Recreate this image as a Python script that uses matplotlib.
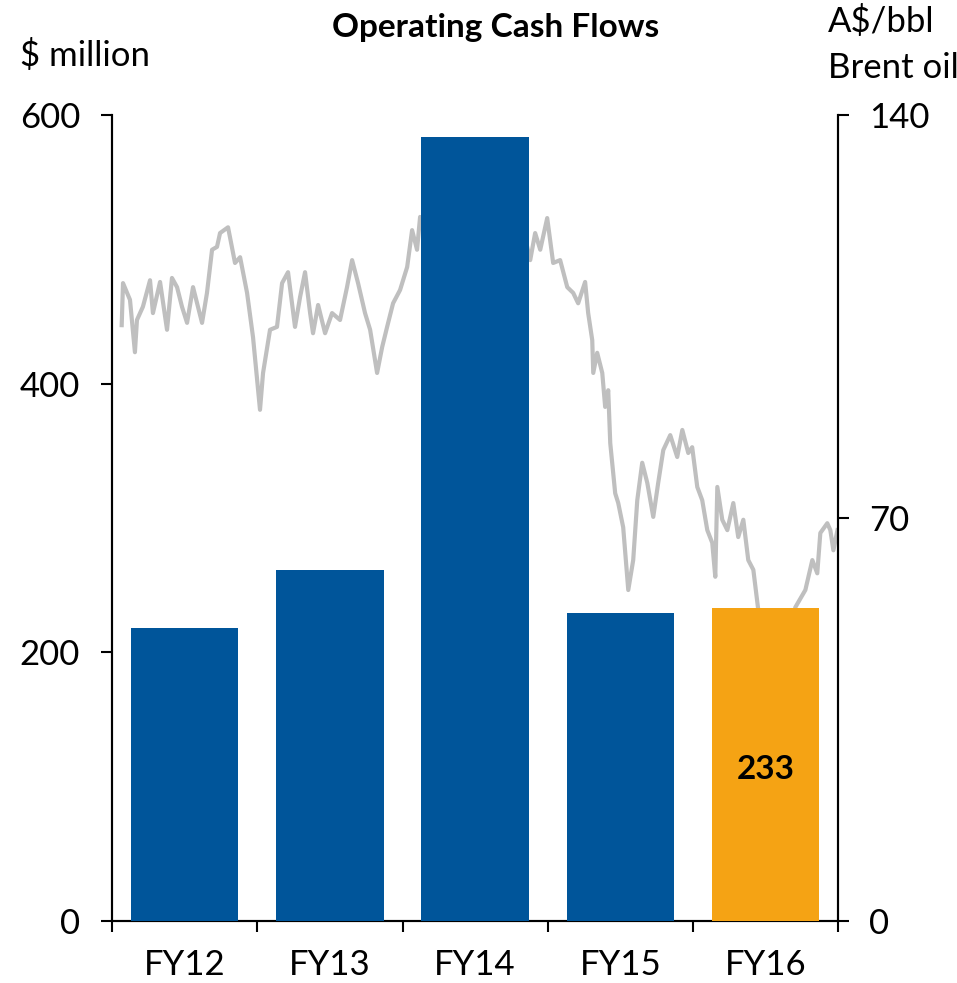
import matplotlib
matplotlib.use("Agg")
import matplotlib.pyplot as plt
import numpy as np

plt.rcParams['font.family'] = ['Lato', 'DejaVu Sans']

# data
years = ["FY12", "FY13", "FY14", "FY15", "FY16"]
cash_flow = [218, 261, 584, 229, 233]
bar_colors = ["#00559A", "#00559A", "#00559A", "#00559A", "#F5A314"]

# Brent oil A$/bbl, time in years from 1 July 2011
oil_t = [0.067, 0.076, 0.124, 0.158, 0.172, 0.213, 0.262, 0.282, 0.331, 0.379,
         0.413, 0.448, 0.482, 0.517, 0.558, 0.620, 0.654, 0.689, 0.723, 0.744,
         0.799, 0.847, 0.882, 0.930, 0.971, 1.019, 1.040, 1.088, 1.136, 1.171,
         1.212, 1.260, 1.295, 1.329, 1.364, 1.384, 1.419, 1.467, 1.515, 1.570,
         1.618, 1.653, 1.694, 1.742, 1.777, 1.825, 1.860, 1.894, 1.935, 1.983,
         2.032, 2.066, 2.100, 2.121, 2.30, 2.50, 2.70, 2.85, 2.879, 2.913,
         2.948, 2.996, 3.037, 3.085, 3.134, 3.175, 3.209, 3.257, 3.278, 3.306,
         3.313, 3.340, 3.375, 3.395, 3.416, 3.430, 3.464, 3.485, 3.519, 3.554,
         3.588, 3.616, 3.650, 3.685, 3.726, 3.760, 3.795, 3.843, 3.891, 3.926,
         3.967, 3.994, 4.029, 4.063, 4.098, 4.132, 4.153, 4.167, 4.201, 4.236,
         4.277, 4.311, 4.346, 4.380, 4.415, 4.449, 4.52, 4.58, 4.64, 4.704,
         4.773, 4.821, 4.855, 4.876, 4.924, 4.945, 4.966, 4.994]
oil_price = [103.5, 110.8, 107.9, 98.8, 104.4, 106.7, 111.3, 105.6, 111.0, 102.7,
             111.7, 110.1, 106.7, 103.9, 110.1, 103.9, 109.1, 116.6, 117.1, 119.5,
             120.5, 114.3, 115.3, 109.1, 101.4, 88.8, 95.2, 102.7, 103.2, 110.8,
             112.7, 103.2, 108.4, 112.7, 105.6, 102.1, 107.0, 102.1, 105.6, 104.4,
             110.1, 114.8, 110.8, 105.6, 102.7, 95.2, 99.7, 103.2, 107.3, 109.6,
             113.6, 120.0, 116.6, 122.3, 120.0, 116.0, 120.0, 118.0, 114.8, 119.5,
             116.6, 122.1, 114.3, 114.8, 110.1, 109.1, 107.3, 111.0, 105.6, 100.9,
             95.2, 98.7, 95.2, 89.3, 92.2, 83.0, 74.3, 72.6, 68.4, 57.5,
             62.7, 73.1, 79.6, 76.1, 70.2, 76.1, 81.8, 84.4, 80.6, 85.3,
             81.3, 82.3, 75.4, 73.1, 67.9, 65.7, 59.8, 75.4, 69.7, 67.9,
             72.6, 66.7, 69.7, 62.7, 61.0, 54.0, 46.0, 42.0, 44.0, 54.5,
             57.5, 62.7, 60.4, 67.4, 69.1, 67.9, 64.4, 67.9]

fig = plt.figure(figsize=(9.57, 9.83), dpi=100)
ax = fig.add_axes([0.117, 0.063, 0.759, 0.820])
ax2 = ax.twinx()

x = np.arange(len(years))

# oil line behind the bars
ax2.plot(np.array(oil_t) - 0.5, oil_price, color="#BFBFBF", linewidth=3.0, zorder=1)
ax2.set_ylim(0, 140)
ax2.set_yticks([0, 70, 140])

ax.bar(x, cash_flow, width=0.74, color=bar_colors, zorder=3)
ax.text(4, cash_flow[4] / 2 - 4, str(cash_flow[4]), ha="center", va="center",
        fontsize=24, fontweight="bold", color="black", zorder=4)

# bars in front of the line
ax.set_zorder(ax2.get_zorder() + 1)
ax.patch.set_visible(False)

ax.set_xlim(-0.5, 4.5)
ax.set_ylim(0, 600)
ax.set_yticks([0, 200, 400, 600])
ax.set_xticks(np.arange(-0.5, 5, 1))
ax.set_xticklabels([])
ax.set_xticks(x, minor=True)
ax.set_xticklabels(years, minor=True)
ax.tick_params(axis="x", which="major", length=8, width=1.5, direction="out")
ax.tick_params(axis="x", which="minor", length=0, pad=20, labelsize=25)
ax.tick_params(axis="y", length=8, width=1.5, labelsize=25, pad=15)
ax2.tick_params(axis="y", length=8, width=1.5, labelsize=25, pad=14)

for a in (ax, ax2):
    a.spines["top"].set_visible(False)
    for s in ("left", "right", "bottom"):
        a.spines[s].set_linewidth(1.5)
        a.spines[s].set_color("black")

fig.text(0.518, 1 - 28 / 983, "Operating Cash Flows", ha="center", va="center",
         fontsize=24, fontweight="bold")
fig.text(20 / 957, 1 - 55 / 983, "$ million", ha="left", va="center", fontsize=25)
fig.text(828 / 957, 1 - 22 / 983, "A$/bbl", ha="left", va="center", fontsize=25)
fig.text(828 / 957, 1 - 68 / 983, "Brent oil", ha="left", va="center", fontsize=25)

fig.savefig("out.png", dpi=100)
